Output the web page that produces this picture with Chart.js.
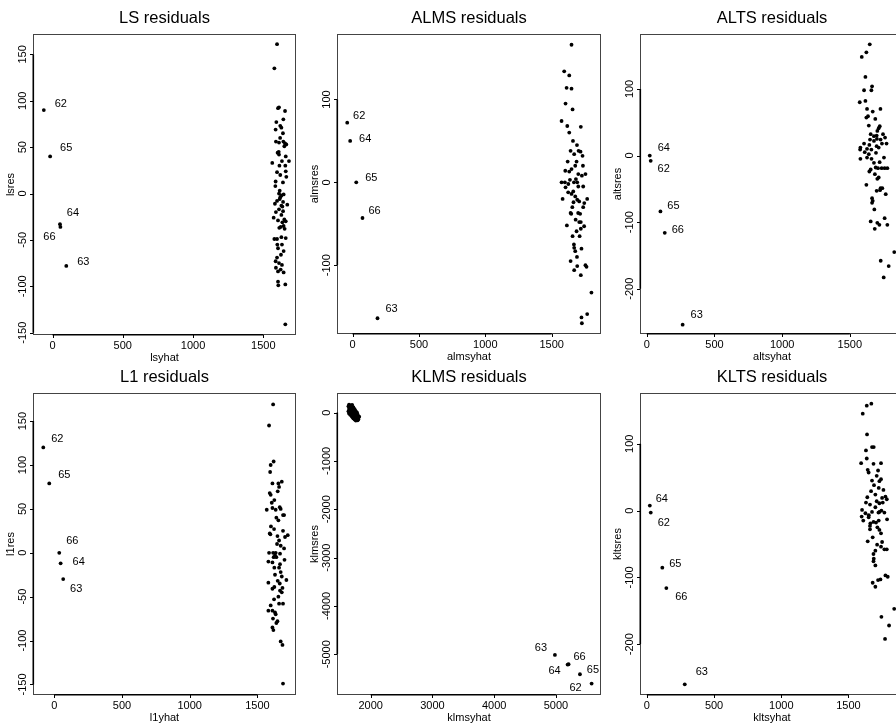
<!DOCTYPE html>
<html>
<head>
<meta charset="utf-8">
<script src="https://cdn.jsdelivr.net/npm/chart.js@4.4.1/dist/chart.umd.min.js"></script>
<style>
  html, body { margin: 0; padding: 0; background: #fff; width: 896px; height: 728px; overflow: hidden; }
  canvas { position: absolute; }
</style>
</head>
<body>
<script>
// labelled points, in this order in every *OutX / *OutY array
const outIds = ['62', '63', '64', '65', '66'];

// LS
const lsX = [1598,1579,1612,1605,1655,1643,1593,1621,1629,1588,
  1590,1612,1643,1650,1664,1655,1602,1612,1660,1564,
  1633,1683,1657,1598,1621,1660,1664,1588,1640,1586,
  1612,1629,1645,1617,1598,1641,1583,1671,1629,1612,
  1641,1629,1574,1605,1636,1645,1624,1614,1652,1579,
  1598,1629,1660,1633,1605,1626,1598,1588,1612,1633,
  1624,1605,1645,1605,1607,1657,1657,1617,1621,1636,
  1590,1650,1610,1645,1620,1590,1660,1615,1600,1640];
const lsY = [161,135,93,92,89,80,77,73,71,69,
  56,55,56,51,53,54,44,42,40,33,
  35,35,30,23,20,24,18,13,12,8,
  0,-2,-1,-6,-8,-9,-11,-12,-13,-17,
  -19,-23,-26,-29,-31,-35,-36,-37,-38,-49,
  -49,-47,-48,-55,-59,-66,-69,-73,-75,-77,
  -82,-84,-85,-95,-99,-98,-141,3,-4,-14,
  -20,-28,45,-62,60,-80,-30,30,-55,65];
const lsOutX = [-62, 98, 53, -17, 56];
const lsOutY = [90, -78, -33, 40, -36];

// ALMS
const almsX = [1649,1594,1632,1612,1649,1604,1657,1574,1617,1719,
  1632,1642,1702,1717,1732,1669,1687,1649,1677,1602,
  1632,1754,1682,1727,1574,1599,1667,1692,1637,1604,
  1737,1624,1649,1662,1582,1677,1692,1707,1767,1664,
  1737,1699,1714,1642,1647,1614,1707,1719,1744,1687,
  1719,1657,1667,1669,1677,1724,1642,1669,1692,1719,
  1754,1762,1799,1724,1767,1727,1690,1655,1700,1620,
  1680,1735,1660,1710,1700,1625,1745,1690];
const almsY = [166,134,129,114,113,95,88,74,68,67,
  60,38,38,37,32,34,25,16,20,14,
  13,10,4,8,0,0,0,0,3,-6,
  -5,-12,-14,-11,-20,-17,-21,-23,-20,-24,
  -30,-37,-38,-37,-38,-52,-48,-48,-53,-59,
  -56,-65,-75,-79,-83,-80,-95,-106,-101,-112,
  -100,-102,-133,-163,-159,-170,45,-30,10,25,
  -45,20,50,-65,-5,-2,-25,-90];
const almsOutX = [-40, 188, -18, 28, 75];
const almsOutY = [72, -164, 50, 0, -43];

// ALTS
const altsX = [1647,1622,1588,1615,1605,1659,1664,1573,1615,1627,
  1669,1726,1634,1622,1688,1721,1713,1703,1654,1678,
  1698,1745,1760,1727,1649,1678,1737,1771,1605,1644,
  1698,1578,1627,1659,1713,1576,1610,1640,1693,1752,
  1578,1627,1678,1691,1708,1735,1757,1777,1644,1654,
  1703,1713,1622,1698,1723,1740,1765,1727,1664,1669,
  1664,1681,1654,1703,1718,1684,1757,1777,1828,1728,
  1787,1750,1660,1700,1640,1720,1685];
const altsY = [167,155,148,118,98,98,104,80,82,70,
  66,70,59,57,55,44,41,37,32,29,
  30,32,27,24,24,22,18,18,18,16,
  14,12,10,9,12,9,5,2,4,-3,
  -5,-3,-11,-18,-19,-19,-19,-19,-24,-21,
  -35,-33,-44,-53,-52,-49,-58,-49,-64,-68,
  -71,-81,-99,-101,-104,-110,-94,-104,-145,-158,
  -166,-183,-5,25,45,-10,-28];
const altsOutX = [29, 265, 22, 101, 133];
const altsOutY = [-8, -254, 0, -84, -116];

// L1
const l1X = [1616,1586,1620,1598,1594,1611,1655,1680,1660,1650,
  1591,1598,1606,1625,1569,1611,1635,1665,1672,1689,
  1697,1655,1591,1596,1623,1689,1704,1724,1697,1648,
  1660,1672,1586,1616,1630,1635,1640,1667,1581,1611,
  1667,1625,1660,1672,1680,1581,1650,1714,1625,1611,
  1665,1685,1667,1680,1623,1598,1611,1630,1689,1660,
  1581,1635,1648,1640,1611,1618,1672,1685,1689,1620,
  1645,1600,1655,1630,1700,1615,1640];
const l1Y = [169,145,104,100,92,79,79,81,75,70,
  68,66,57,60,49,51,49,52,50,43,
  43,37,22,21,27,25,18,20,5,19,
  14,8,0,0,-3,0,-5,-1,-10,-11,
  -13,-17,-17,-22,-27,-34,-32,-31,-39,-41,
  -35,-40,-43,-45,-53,-60,-66,-68,-58,-58,
  -66,-70,-78,-80,-85,-88,-101,-105,-149,-5,
  10,30,-50,-25,-8,-75,40];
const l1OutX = [-81, 66, 47, -37, 37];
const l1OutY = [120, -30, -12, 79, 0];

// KLMS
const klmsX = [1650,1680,1700,1640,1670,1710,1660,1690,1720,1650,
  1680,1710,1740,1665,1695,1725,1755,1640,1675,1705,
  1735,1765,1660,1690,1720,1750,1780,1650,1685,1715,
  1745,1775,1670,1700,1730,1760,1790,1690,1720,1750,
  1780,1705,1735,1765,1795,1720,1750,1780,1740,1770,
  1800,1760,1790,1700,1730,1760,1680,1720,1745,1775,
  1815,1800,1670,1695,1735,1755,1710,1685,1725,1655];
const klmsY = [165,150,160,130,125,120,100,95,90,75,
  70,65,70,50,45,40,35,25,20,15,
  10,15,0,-5,-10,-5,0,-20,-25,-30,
  -35,-25,-45,-50,-55,-50,-45,-70,-75,-80,
  -70,-95,-100,-105,-95,-120,-125,-130,-145,-150,
  -140,-165,-160,30,-15,-40,55,105,-110,-115,
  -85,-110,85,-35,25,-65,-5,110,-90,40];
const klmsOutX = [5578, 4984, 5189, 5389, 5205];
const klmsOutY = [-5607, -5014, -5214, -5414, -5207];

// KLTS
const kltsX = [1670,1636,1606,1638,1630,1675,1688,1594,1636,1686,
  1742,1643,1650,1710,1742,1730,1668,1725,1760,1775,
  1700,1750,1630,1660,1710,1730,1755,1785,1601,1626,
  1651,1675,1730,1767,1598,1723,1787,1663,1686,1705,
  1725,1660,1730,1742,1643,1713,1750,1742,1767,1785,
  1686,1688,1686,1700,1680,1720,1738,1700,1775,1792,
  1840,1745,1802,1772,1650,1700,1690,1715,1640,1680,
  1720,1660,1745,1610,1700,1675];
const kltsY = [160,157,145,114,90,95,95,71,78,70,
  71,61,57,52,47,44,29,34,31,21,
  24,19,12,9,14,11,12,17,1,-4,
  -7,-2,-2,-3,-9,-3,-13,-19,-17,-18,
  -15,-23,-29,-34,-46,-51,-47,-54,-58,-58,
  -65,-72,-76,-82,-108,-104,-103,-114,-97,-99,
  -147,-159,-172,-192,-10,5,38,-25,20,-40,
  60,-28,0,-15,-60,45];
const kltsOutX = [29, 282, 22, 115, 145];
const kltsOutY = [-3, -260, 7.5, -85.5, -116];

// tick labels
const yhatTicks = [0, 500, 1000, 1500];
const klmsXTicks = [2000, 3000, 4000, 5000];
const lsYTicks = [-150, -100, -50, 0, 50, 100, 150];
const almsYTicks = [-100, 0, 100];
const altsYTicks = [-200, -100, 0, 100];
const l1YTicks = [-150, -100, -50, 0, 50, 100, 150];
const klmsYTicks = [-5000, -4000, -3000, -2000, -1000, 0];
const kltsYTicks = [-200, -100, 0, 100];

const FONT = "'Liberation Sans', Arial, Helvetica, sans-serif";
const PAD = {left: 40, top: 36, right: 6, bottom: 32};

// box = plot frame in page pixels [left, top, right, bottom]
const panels = [
  {title: 'LS residuals', xLab: 'lsyhat', yLab: 'lsres', xs: lsX, ys: lsY, ox: lsOutX, oy: lsOutY,
   xt: yhatTicks, yt: lsYTicks, box: [33, 34, 296, 335], xr: [-139, 1733], yr: [-152.5, 172],
   off: [[17, -6], [17, -4], [13, -11], [16, -8], [-11, 10]]},
  {title: 'ALMS residuals', xLab: 'almsyhat', yLab: 'almsres', xs: almsX, ys: almsY, ox: almsOutX, oy: almsOutY,
   xt: yhatTicks, yt: almsYTicks, box: [337, 34, 601, 334], xr: [-117, 1871], yr: [-183, 179],
   off: [[12, -7], [14, -9], [15, -2], [15, -4], [12, -7]]},
  {title: 'ALTS residuals', xLab: 'altsyhat', yLab: 'altsres', xs: altsX, ys: altsY, ox: altsOutX, oy: altsOutY,
   xt: yhatTicks, yt: altsYTicks, box: [640, 34, 904, 334], xr: [-50, 1900], yr: [-268, 182.5],
   off: [[13, 8], [14, -10], [14, -8], [13, -6], [13, -3]]},
  {title: 'L1 residuals', xLab: 'l1yhat', yLab: 'l1res', xs: l1X, ys: l1Y, ox: l1OutX, oy: l1OutY,
   xt: yhatTicks, yt: l1YTicks, box: [33, 393, 296, 695], xr: [-157, 1785], yr: [-162, 182],
   off: [[14, -8], [13, 10], [18, -1], [15, -8], [13, -12]]},
  {title: 'KLMS residuals', xLab: 'klmsyhat', yLab: 'klmsres', xs: klmsX, ys: klmsY, ox: klmsOutX, oy: klmsOutY,
   xt: klmsXTicks, yt: klmsYTicks, box: [337, 393, 601, 695], xr: [1455, 5730], yr: [-5843, 405],
   off: [[-16, 4], [-14, -7], [-13, 6], [13, -4], [11, -7]]},
  {title: 'KLTS residuals', xLab: 'kltsyhat', yLab: 'kltsres', xs: kltsX, ys: kltsY, ox: kltsOutX, oy: kltsOutY,
   xt: yhatTicks, yt: kltsYTicks, box: [640, 393, 904, 695], xr: [-51, 1913], yr: [-276, 176],
   off: [[13, 10], [17, -12], [12, -7], [13, -4], [15, 9]]}
];

const zip = (a, b) => a.slice(0, Math.min(a.length, b.length)).map((v, i) => ({x: v, y: b[i]}));

// R style frame, axes, titles and point labels
const rFrame = {
  id: 'rFrame',
  afterDraw(chart, args, p) {
    const {ctx, chartArea: a, scales: {x, y}} = chart;
    ctx.save();
    ctx.fillStyle = '#000';

    // frame
    ctx.strokeStyle = '#444';
    ctx.lineWidth = 1;
    ctx.strokeRect(a.left + 0.5, a.top + 0.5, a.right - a.left - 1, a.bottom - a.top - 1);

    // axis lines over the frame
    ctx.strokeStyle = '#000';
    ctx.lineWidth = 1.6;
    const bx0 = x.getPixelForValue(p.xt[0]), bx1 = x.getPixelForValue(p.xt[p.xt.length - 1]);
    const ly0 = y.getPixelForValue(p.yt[0]), ly1 = y.getPixelForValue(p.yt[p.yt.length - 1]);
    ctx.beginPath();
    ctx.moveTo(bx0, a.bottom - 0.3); ctx.lineTo(bx1, a.bottom - 0.3);
    ctx.moveTo(a.left + 0.3, ly0); ctx.lineTo(a.left + 0.3, ly1);
    ctx.stroke();

    // ticks
    ctx.lineWidth = 1;
    ctx.beginPath();
    p.xt.forEach(v => {
      const px = Math.round(x.getPixelForValue(v)) + 0.5;
      ctx.moveTo(px, a.bottom); ctx.lineTo(px, a.bottom + 3);
    });
    p.yt.forEach(v => {
      const py = Math.round(y.getPixelForValue(v)) + 0.5;
      ctx.moveTo(a.left, py); ctx.lineTo(a.left - 3, py);
    });
    ctx.stroke();

    // tick labels
    ctx.font = '11px ' + FONT;
    ctx.textAlign = 'center';
    ctx.textBaseline = 'middle';
    p.xt.forEach(v => ctx.fillText(String(v), x.getPixelForValue(v), a.bottom + 10.5));
    p.yt.forEach(v => {
      ctx.save();
      ctx.translate(a.left - 10, y.getPixelForValue(v));
      ctx.rotate(-Math.PI / 2);
      ctx.fillText(String(v), 0, 0);
      ctx.restore();
    });

    // axis titles
    const cx = (a.left + a.right) / 2, cy = (a.top + a.bottom) / 2;
    ctx.fillText(p.xLab, cx, a.bottom + 23);
    ctx.save();
    ctx.translate(a.left - 22, cy);
    ctx.rotate(-Math.PI / 2);
    ctx.fillText(p.yLab, 0, 0);
    ctx.restore();

    // point labels
    const meta = chart.getDatasetMeta(1);
    meta.data.forEach((pt, i) => {
      ctx.fillText(outIds[i], pt.x + p.off[i][0], pt.y + p.off[i][1]);
    });

    // panel title
    ctx.font = '16.5px ' + FONT;
    ctx.fillText(p.title, cx, a.top - 16);
    ctx.restore();
  }
};

panels.forEach(p => {
  const w = p.box[2] - p.box[0] + PAD.left + PAD.right;
  const h = p.box[3] - p.box[1] + PAD.top + PAD.bottom;
  const cv = document.createElement('canvas');
  cv.width = w;
  cv.height = h;
  cv.style.width = w + 'px';
  cv.style.height = h + 'px';
  cv.style.left = (p.box[0] - PAD.left) + 'px';
  cv.style.top = (p.box[1] - PAD.top) + 'px';
  document.body.appendChild(cv);

  const dot = {pointRadius: 1.9, pointBackgroundColor: '#000', pointBorderWidth: 0, showLine: false, clip: false};
  new Chart(cv, {
    type: 'scatter',
    data: {
      datasets: [
        Object.assign({label: 'main', data: zip(p.xs, p.ys)}, dot),
        Object.assign({label: 'labelled', data: zip(p.ox, p.oy)}, dot)
      ]
    },
    options: {
      responsive: false,
      devicePixelRatio: 1,
      animation: false,
      events: [],
      layout: {padding: PAD},
      plugins: {legend: {display: false}, tooltip: {enabled: false}, rFrame: p},
      scales: {
        x: {type: 'linear', display: false, min: p.xr[0], max: p.xr[1]},
        y: {type: 'linear', display: false, min: p.yr[0], max: p.yr[1]}
      }
    },
    plugins: [rFrame]
  });
});
</script>
</body>
</html>
